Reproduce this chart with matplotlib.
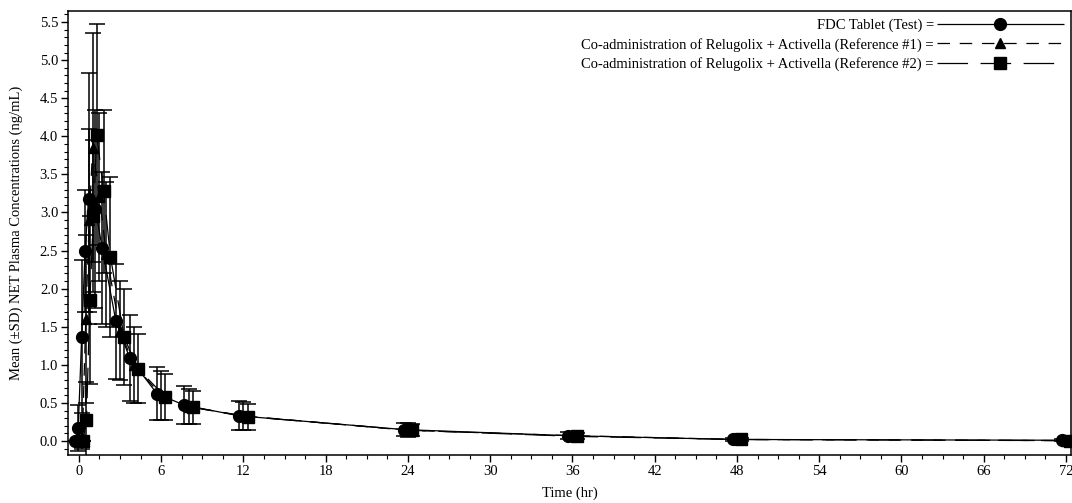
import numpy as np
import matplotlib
import matplotlib.pyplot as plt
from matplotlib.ticker import MultipleLocator, FormatStrFormatter
matplotlib.use('Agg')

plt.rcParams['font.family'] = ['Liberation Serif', 'DejaVu Serif']
plt.rcParams['font.size'] = 10.5
plt.rcParams['lines.scale_dashes'] = False

# nominal sampling times (hr)
times = [0, 0.25, 0.5, 0.75, 1, 1.5, 2, 3, 4, 6, 8, 12, 24, 36, 48, 72]

labels = [
    "FDC Tablet (Test) =",
    "Co-administration of Relugolix + Activella (Reference #1) =",
    "Co-administration of Relugolix + Activella (Reference #2) =",
]

# mean NET concentrations (ng/mL)
fdc_mean = [0, 0.17, 1.37, 2.50, 3.18, 3.05, 2.53, 1.57, 1.09, 0.62, 0.47, 0.33, 0.15, 0.07, 0.02, 0.01]
ref1_mean = [0, 0.05, 1.60, 2.90, 3.85, 3.20, 2.45, 1.45, 1.00, 0.60, 0.45, 0.33, 0.14, 0.07, 0.02, 0.005]
ref2_mean = [0, 0.27, 1.85, 2.95, 4.02, 3.28, 2.42, 1.36, 0.95, 0.58, 0.44, 0.32, 0.14, 0.06, 0.02, 0.005]

# standard deviations
fdc_sd = [0, 0.30, 1.00, 0.80, 1.65, 1.30, 1.00, 0.75, 0.56, 0.35, 0.25, 0.19, 0.09, 0.05, 0.02, 0.01]
ref1_sd = [0, 0.15, 1.10, 1.20, 1.50, 1.10, 0.95, 0.65, 0.50, 0.32, 0.23, 0.18, 0.09, 0.05, 0.02, 0.01]
ref2_sd = [0, 0.50, 1.10, 1.00, 1.45, 1.07, 1.05, 0.63, 0.45, 0.30, 0.22, 0.17, 0.08, 0.04, 0.02, 0.01]

series = [
    (fdc_mean, fdc_sd, 'o', 8.5, (0, ()), -0.3),
    (ref1_mean, ref1_sd, '^', 6.5, (0, (9, 7)), 0.0),
    (ref2_mean, ref2_sd, 's', 8.0, (0, (22, 9)), 0.3),
]

fig = plt.figure(figsize=(10.72, 5.03), dpi=100)
ax = fig.add_axes([0.0634, 0.0954, 0.9356, 0.8826])

t = np.array(times)
for (mean, sd, marker, msize, ls, shift), label in zip(series, labels):
    ax.errorbar(t + shift, mean, yerr=sd, fmt='none', ecolor='black',
                elinewidth=1.1, capsize=6, capthick=1.1)
    ax.plot(t + shift, mean, color='black', linewidth=0.9, linestyle=ls,
            marker=marker, markersize=msize, label=label)

ax.set_xlim(-0.8, 72.36)
ax.set_ylim(-0.184, 5.644)
ax.xaxis.set_major_locator(MultipleLocator(6))
ax.xaxis.set_minor_locator(MultipleLocator(1.5))
ax.yaxis.set_major_locator(MultipleLocator(0.5))
ax.yaxis.set_minor_locator(MultipleLocator(0.1))
ax.yaxis.set_major_formatter(FormatStrFormatter('%.1f'))
ax.tick_params(which='major', direction='out', length=5, width=1, pad=2)
ax.tick_params(which='minor', direction='out', length=3, width=0.8)
for s in ax.spines.values():
    s.set_linewidth(1.1)

ax.set_xlabel("Time (hr)", labelpad=6)
ax.set_ylabel("Mean (±SD) NET Plasma Concentrations (ng/mL)", labelpad=12)

ax.legend(loc='upper right', frameon=False, markerfirst=False, numpoints=1,
          handlelength=8.7, handletextpad=0.2, labelspacing=0.4,
          borderaxespad=0.3, borderpad=0.2)

fig.savefig("out.png", dpi=100)
